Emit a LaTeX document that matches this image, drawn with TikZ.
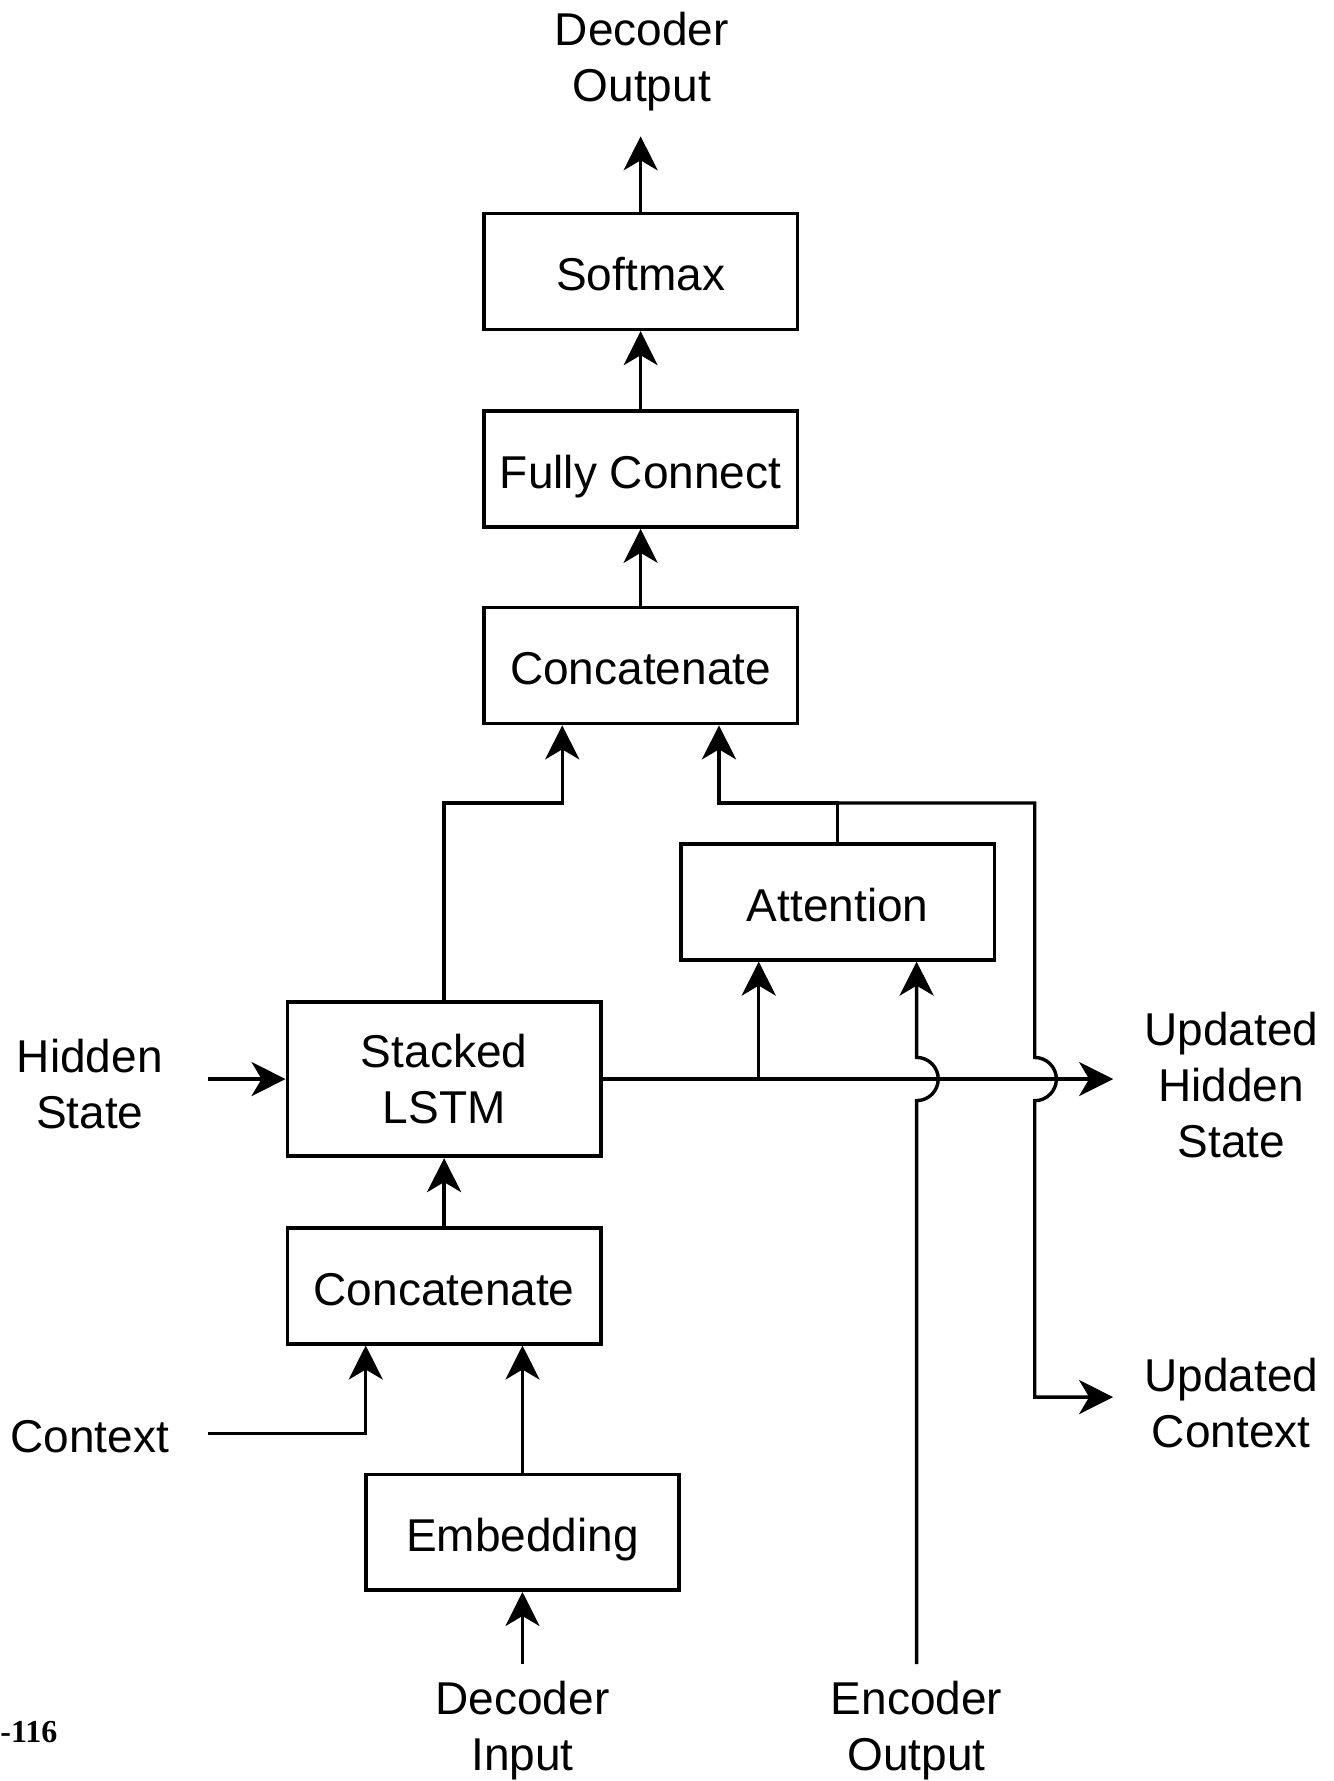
\documentclass[tikz,border=0pt]{standalone}
\usepackage{fontspec}
\setmainfont{Liberation Sans}
\newfontfamily\numfont{Liberation Serif}
\usetikzlibrary{arrows.meta}

\tikzset{
  block/.style={draw, line width=1.8pt, minimum width=156.7pt, minimum height=57.9pt,
    inner sep=0pt, align=center, font=\fontsize{23}{28}\selectfont},
  oneline/.style={text height=19.3pt, text depth=0pt},
  lbl/.style={align=center, inner sep=0pt, font=\fontsize{23}{28}\selectfont},
  conn/.style={line width=1.7pt},
  arr/.style={conn, -{Stealth[length=17pt, width=17pt, inset=5pt]}},
}

\begin{document}
\begin{tikzpicture} [x=0.5677pt,y=-0.5677pt]

\useasboundingbox (0,0) rectangle (1174,1568);

% blocks
\node [block, oneline] (softmax) at (564,239) {Softmax};
\node [block, oneline] (fullconn) at (564,413) {Fully Connect};
\node [block, oneline] (concattop) at (564,586) {Concatenate};
\node [block, oneline] (attention) at (737.5,794) {Attention};
\node [block, minimum height=77.2pt] (lstm) at (391,950) {Stacked\\LSTM};
\node [block, oneline] (concatbot) at (391,1132) {Concatenate};
\node [block, oneline] (embedding) at (460,1349) {Embedding};

% labels outside
\node [lbl] (decout) at (565,54) {Decoder\\Output};
\node [lbl] (hidden) at (79,954) {Hidden\\State};
\node [lbl] (context) at (79,1265) {Context};
\node [lbl] (updhidden) at (1084,955) {Updated\\Hidden\\State};
\node [lbl] (updcontext) at (1084,1235) {Updated\\Context};
\node [lbl] (decin) at (460,1524) {Decoder\\Input};
\node [lbl] (encout) at (807,1524) {Encoder\\Output};
\node [anchor=west, inner sep=0pt, font=\numfont\bfseries\fontsize{16}{16}\selectfont] (fignum) at (0,1525) {-116};

% free ends
\coordinate (decoutin) at (564,120);
\coordinate (hiddenout) at (183,950);
\coordinate (contextout) at (183,1262);
\coordinate (updhiddenin) at (980,950);
\coordinate (updcontextin) at (980,1230);
\coordinate (decinout) at (460,1465);
\coordinate (encoutout) at (807,1465);
\coordinate (branch) at (668,950);

% top chain
\draw [arr] (softmax.north) -- (decoutin);
\draw [arr] (fullconn.north) -- (softmax.south);
\draw [arr] (concattop.north) -- (fullconn.south);
\draw [arr] (lstm.north) |- (495,707) -- (concattop.south -| 495,0);
\draw [arr] (attention.north) |- (633,707) -- (concattop.south -| 633,0);
\draw [arr] (attention.north |- 0,707) -| (911,931)
  arc [start angle=90, end angle=-90, radius=10.8pt] -- (911,1230) -- (updcontextin);

% lstm out
\draw [arr] (lstm.east) -- (updhiddenin);
\draw [arr] (branch) -- (attention.south -| branch);
\draw [arr] (encoutout) -- (807,969)
  arc [start angle=-90, end angle=90, radius=10.8pt] -- (attention.south -| 807,0);

% bottom chain
\draw [arr] (hiddenout) -- (lstm.west);
\draw [arr] (concatbot.north) -- (lstm.south);
\draw [arr] (contextout) -| (concatbot.south -| 322,0);
\draw [arr] (embedding.north) -- (concatbot.south -| embedding.north);
\draw [arr] (decinout) -- (embedding.south);

\end{tikzpicture}
\end{document}
